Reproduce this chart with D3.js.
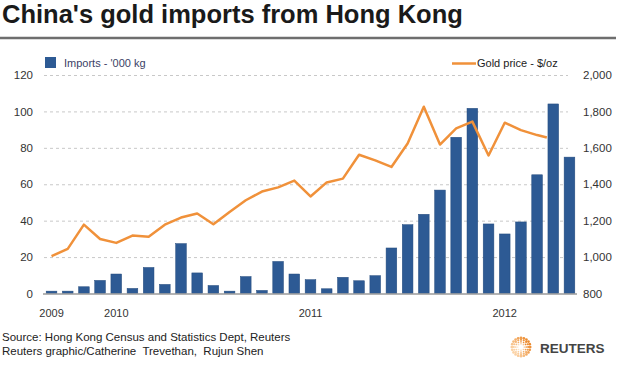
<!DOCTYPE html>
<html><head><meta charset="utf-8">
<script src="https://cdnjs.cloudflare.com/ajax/libs/d3/7.8.5/d3.min.js"></script>
<style>
body{margin:0;background:#fff;}
svg{display:block;font-family:"Liberation Sans",Arial,Helvetica,sans-serif;}
</style></head><body>
<svg id="c" width="620" height="370"></svg>
<script>
const months = ["Sep 2009","Oct 2009","Nov 2009","Dec 2009",
  "Jan 2010","Feb 2010","Mar 2010","Apr 2010","May 2010","Jun 2010","Jul 2010","Aug 2010","Sep 2010","Oct 2010","Nov 2010","Dec 2010",
  "Jan 2011","Feb 2011","Mar 2011","Apr 2011","May 2011","Jun 2011","Jul 2011","Aug 2011","Sep 2011","Oct 2011","Nov 2011","Dec 2011",
  "Jan 2012","Feb 2012","Mar 2012","Apr 2012","May 2012"];
const imports = [1.3, 1.3, 3.7, 7.2, 10.7, 2.8, 14.3, 5.0, 27.4, 11.3, 4.4, 1.3, 9.3, 1.7, 17.6, 10.7,
  7.6, 2.6, 8.9, 7.0, 9.8, 25.0, 37.8, 43.5, 56.8, 85.8, 101.7, 38.2, 32.7, 39.3, 65.2, 104.1, 74.9];
const goldPrice = [1005, 1045, 1178, 1099, 1078, 1118, 1112, 1178, 1217, 1239, 1180, 1248, 1312, 1360, 1383, 1420,
  1333, 1410, 1431, 1562, 1531, 1495, 1624, 1826, 1618, 1707, 1744, 1558, 1738, 1697, 1670, 1657];
const goldMonthPos = [0,1,2,3,4,5,6,7,8,9,10,11,12,13,14,15,16,17,18,19,20,21,22,23,24,25,26,27,28,29,30,30.6];
const leftTicks = [0,20,40,60,80,100,120];
const rightTicks = [800,1000,1200,1400,1600,1800,2000];
const yearLabels = ["2009","2010","2011","2012"];
const yearTickMonths = ["Sep 2009","Jan 2010","Jan 2011","Jan 2012"];

const barColor = "#2d5a94";
const goldColor = "#f0913a";

const svg = d3.select("#c");
const plot = {left:44, right:577, top:75, bottom:293.5, gridRight:568};

const x = d3.scaleBand().domain(months).range([plot.left, plot.right])
  .paddingInner(0.34).paddingOuter(0.135);
const yL = d3.scaleLinear().domain([0,120]).range([plot.bottom, plot.top]);
const yR = d3.scaleLinear().domain([800,2000]).range([plot.bottom, plot.top]);
const bw = x.bandwidth();
const xc = d3.scaleLinear().domain([0, months.length-1])
  .range([x(months[0])+bw/2, x(months[months.length-1])+bw/2]);

// Title
svg.append("text").attr("x",2).attr("y",23)
  .attr("font-size",25.5).attr("font-weight","bold").attr("fill","#1a1a1a")
  .text("China's gold imports from Hong Kong");
svg.append("line").attr("x1",0).attr("x2",616).attr("y1",38).attr("y2",38)
  .attr("stroke","#6e6e6e").attr("stroke-width",2.5);

// Gridlines
const grid = svg.append("g").attr("transform",`translate(${plot.left},0)`)
  .call(d3.axisLeft(yL).tickValues(leftTicks.filter(v=>v>0)).tickSize(-(plot.gridRight-plot.left)).tickFormat(""));
grid.select(".domain").remove();
grid.selectAll(".tick line").attr("stroke","#c8c8c8").attr("stroke-dasharray","3,3").attr("stroke-width",1);

// Left axis labels
const axL = svg.append("g").attr("transform","translate(33,0)")
  .call(d3.axisLeft(yL).tickValues(leftTicks).tickSize(0).tickPadding(0));
axL.select(".domain").remove();
axL.selectAll("text").attr("font-size",11.5).attr("fill","#333").attr("font-family",null);

// Right axis labels
const axR = svg.append("g").attr("transform","translate(583,0)")
  .call(d3.axisRight(yR).tickValues(rightTicks).tickSize(0).tickPadding(0).tickFormat(d3.format(",")));
axR.select(".domain").remove();
axR.selectAll("text").attr("font-size",11.5).attr("fill","#333").attr("font-family",null);

// Bars
svg.append("g").selectAll("rect").data(imports).join("rect")
  .attr("x",(d,i)=>x(months[i])).attr("y",d=>yL(d))
  .attr("width",bw).attr("height",d=>yL(0)-yL(d))
  .attr("fill",barColor).attr("stroke","#244b7d").attr("stroke-width",0.5);

// Baseline
svg.append("line").attr("x1",plot.left-1).attr("x2",plot.right).attr("y1",yL(0)+0.5).attr("y2",yL(0)+0.5)
  .attr("stroke","#9a9a9a").attr("stroke-width",1.5);

// Gold line
svg.append("path").datum(goldPrice)
  .attr("d", d3.line().x((d,i)=>xc(goldMonthPos[i])).y(d=>yR(d)))
  .attr("fill","none").attr("stroke",goldColor).attr("stroke-width",2.5)
  .attr("stroke-linejoin","round");

// X axis years
const axX = svg.append("g").attr("transform","translate(0,309.5)")
  .call(d3.axisBottom(x).tickValues(yearTickMonths).tickSize(0).tickPadding(0)
    .tickFormat(m=>yearLabels[yearTickMonths.indexOf(m)]));
axX.select(".domain").remove();
axX.selectAll("text").attr("font-size",11).attr("fill","#333").attr("font-family",null);

// Legends
svg.append("rect").attr("x",45).attr("y",57).attr("width",11).attr("height",11).attr("fill",barColor);
svg.append("text").attr("x",64).attr("y",67).attr("font-size",11).attr("fill","#3b3f66").text("Imports - '000 kg");
svg.append("line").attr("x1",452).attr("x2",476).attr("y1",63.5).attr("y2",63.5)
  .attr("stroke",goldColor).attr("stroke-width",2.5);
svg.append("text").attr("x",477).attr("y",67).attr("font-size",11).attr("fill","#222").text("Gold price - $/oz");

// Footer
svg.append("text").attr("x",2).attr("y",341).attr("font-size",11.5).attr("fill","#222")
  .text("Source: Hong Kong Census and Statistics Dept, Reuters");
svg.append("text").attr("x",2).attr("y",355).attr("font-size",11.5).attr("fill","#222")
  .style("white-space","pre")
  .text("Reuters graphic/Catherine  Trevethan,  Rujun Shen");

// Reuters logo
const logo = svg.append("g").attr("transform","translate(521,347)");
const rings = [{r:3.2,n:8},{r:5.2,n:12},{r:7.2,n:16},{r:9.2,n:20}];
const col = d3.scaleLinear().domain([-1,1]).range(["#fbd3a6","#ec8a2e"]);
rings.forEach((ring,k)=>{
  d3.range(ring.n).forEach(j=>{
    const a = j/ring.n*2*Math.PI;
    logo.append("circle").attr("cx",ring.r*Math.cos(a)).attr("cy",ring.r*Math.sin(a))
      .attr("r",0.6+k*0.25).attr("fill",col(Math.cos(a+0.6)));
  });
});
svg.append("text").attr("x",540).attr("y",353).attr("font-size",13.5).attr("font-weight","bold")
  .attr("fill","#444").text("REUTERS");
</script>
</body></html>
